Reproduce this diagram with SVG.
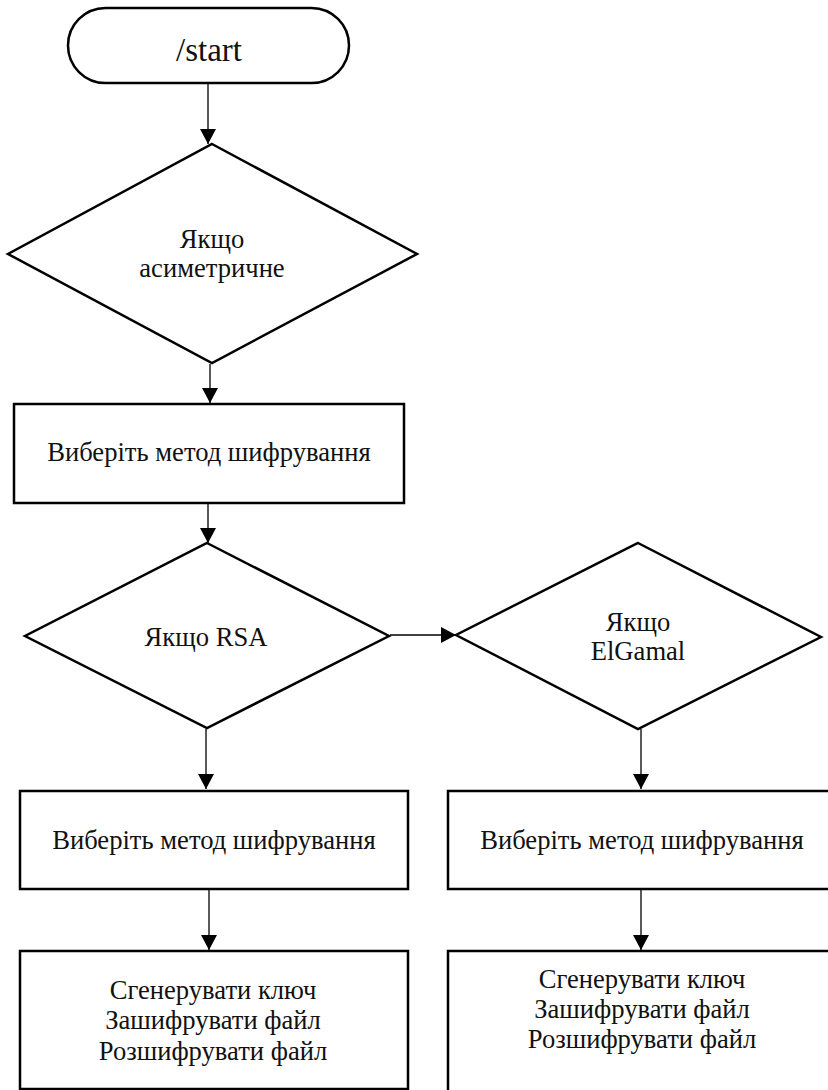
<svg xmlns="http://www.w3.org/2000/svg" width="828" height="1090" viewBox="0 0 828 1090">
  <defs>
    <marker id="arrow" markerUnits="userSpaceOnUse" markerWidth="16" markerHeight="16" refX="15" refY="8" orient="auto">
      <path d="M0,0 L15,8 L0,16 z" fill="#000"/>
    </marker>
    <style>
      .shape { fill: #fff; stroke: #000; stroke-width: 2.5; }
      .link { fill: none; stroke: #000; stroke-width: 1.3; marker-end: url(#arrow); }
      .label { font-family: "Liberation Serif", "Times New Roman", serif; font-size: 26.6px; fill: #111; text-anchor: middle; }
      .big { font-size: 33px; }
    </style>
  </defs>

  <g id="connectors">
    <line class="link" x1="208" y1="83" x2="208" y2="144"/>
    <line class="link" x1="210" y1="364" x2="210" y2="403"/>
    <line class="link" x1="208" y1="504" x2="208" y2="543"/>
    <line class="link" x1="390" y1="635" x2="456" y2="635"/>
    <line class="link" x1="206" y1="729" x2="206" y2="789"/>
    <line class="link" x1="641" y1="729" x2="641" y2="789"/>
    <line class="link" x1="209" y1="889" x2="209" y2="950"/>
    <line class="link" x1="641" y1="889" x2="641" y2="950"/>
  </g>

  <g id="start">
    <rect class="shape" x="68" y="8" width="281" height="75" rx="37.5" ry="37.5"/>
    <text class="label big" x="209" y="61">/start</text>
  </g>

  <g id="if-asymmetric">
    <polygon class="shape" points="212,144 417,254 212,363 8,254"/>
    <text class="label" x="212" y="248">Якщо</text>
    <text class="label" x="212" y="277">асиметричне</text>
  </g>

  <g id="choose-method">
    <rect class="shape" x="14" y="404" width="390" height="99"/>
    <text class="label" x="209" y="461">Виберіть метод шифрування</text>
  </g>

  <g id="if-rsa">
    <polygon class="shape" points="207,543 389,636 207,728 25,636"/>
    <text class="label" x="206" y="646">Якщо RSA</text>
  </g>

  <g id="if-elgamal">
    <polygon class="shape" points="638,543 821,637 638,729 456,635"/>
    <text class="label" x="638" y="631">Якщо</text>
    <text class="label" x="638" y="660">ElGamal</text>
  </g>

  <g id="rsa-method">
    <rect class="shape" x="20" y="791" width="388" height="98"/>
    <text class="label" x="214" y="849">Виберіть метод шифрування</text>
  </g>

  <g id="elgamal-method">
    <rect class="shape" x="448" y="791" width="400" height="98"/>
    <text class="label" x="642" y="849">Виберіть метод шифрування</text>
  </g>

  <g id="rsa-actions">
    <rect class="shape" x="20" y="951" width="388" height="138"/>
    <text class="label" x="213" y="999">Сгенерувати ключ</text>
    <text class="label" x="213" y="1029">Зашифрувати файл</text>
    <text class="label" x="213" y="1060">Розшифрувати файл</text>
  </g>

  <g id="elgamal-actions">
    <rect class="shape" x="448" y="951" width="400" height="160"/>
    <text class="label" x="642" y="988">Сгенерувати ключ</text>
    <text class="label" x="642" y="1018">Зашифрувати файл</text>
    <text class="label" x="642" y="1048">Розшифрувати файл</text>
  </g>
</svg>
